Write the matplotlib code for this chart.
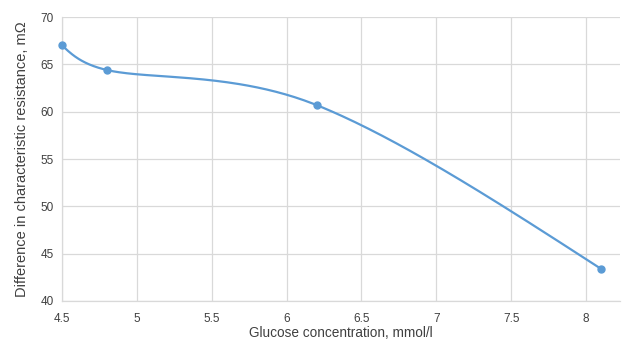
import numpy as np
import matplotlib
matplotlib.use("Agg")
import matplotlib.pyplot as plt

plt.rcParams['font.family'] = ['Liberation Sans Narrow', 'Liberation Sans', 'DejaVu Sans']

# data
glucose = [4.5, 4.8, 6.2, 8.1]
resistance = [67.0, 64.4, 60.7, 43.4]
x_ticks = [4.5, 5, 5.5, 6, 6.5, 7, 7.5, 8]
y_ticks = [40, 45, 50, 55, 60, 65, 70]

line_color = '#5B9BD5'
text_color = '#404040'

fig = plt.figure(figsize=(6.29, 3.44), dpi=100)
ax = fig.add_axes([62 / 629, 1 - 301 / 344, (620 - 62) / 629, (301 - 17) / 344])
ax.set_xlim(4.5, 8.227)
ax.set_ylim(40, 70)


def smooth_line(xs, ys, n=80):
    """Smoothed line through the points (Bezier, tension 1/6), built in
    display space; control arms are clipped to half the segment."""
    P = ax.transData.transform(np.column_stack([xs, ys]))
    m = len(P)
    tang = {}
    for i in range(1, m - 1):
        tang[i] = (P[i + 1] - P[i - 1]) / 6
    t = np.linspace(0, 1, n)[:, None]
    out = []
    for i in range(m - 1):
        p0, p3 = P[i], P[i + 1]
        L = np.linalg.norm(p3 - p0)
        c1 = c2 = None
        if i in tang:
            a = tang[i]
            a = a * min(1, 0.5 * L / np.linalg.norm(a))
            c1 = p0 + a
        if (i + 1) in tang:
            a = tang[i + 1]
            a = a * min(1, 0.5 * L / np.linalg.norm(a))
            c2 = p3 - a
        if c1 is None:
            c1 = p0 + (c2 - p0) / 2
        if c2 is None:
            c2 = p3 + (c1 - p3) / 2
        b = (1 - t) ** 3 * p0 + 3 * (1 - t) ** 2 * t * c1 + 3 * (1 - t) * t ** 2 * c2 + t ** 3 * p3
        out.append(b)
    out = np.vstack(out)
    d = ax.transData.inverted().transform(out)
    return d[:, 0], d[:, 1]


sx, sy = smooth_line(glucose, resistance)
ax.plot(sx, sy, color=line_color, lw=1.6, zorder=3)
ax.plot(glucose, resistance, 'o', color=line_color, ms=5, zorder=4, clip_on=False)

ax.set_xticks(x_ticks)
ax.set_xticklabels([f'{v:g}' for v in x_ticks])
ax.set_yticks(y_ticks)
ax.grid(True, color='#D9D9D9', lw=0.9)
ax.set_axisbelow(True)
for s in ['top', 'right']:
    ax.spines[s].set_visible(False)
for s in ['left', 'bottom']:
    ax.spines[s].set_color('#D9D9D9')
    ax.spines[s].set_linewidth(0.9)
ax.tick_params(length=0, labelsize=8.5, colors=text_color)
ax.tick_params(axis='x', pad=9)
ax.tick_params(axis='y', pad=6)

ax.set_xlabel('Glucose concentration, mmol/l', fontsize=9.8, color=text_color, va='center')
ax.xaxis.set_label_coords(0.5, (301 - 333) / 284)
ax.set_ylabel('Difference in characteristic resistance, mΩ', fontsize=10.5, color=text_color, labelpad=8)

fig.savefig('out.png', dpi=100)
